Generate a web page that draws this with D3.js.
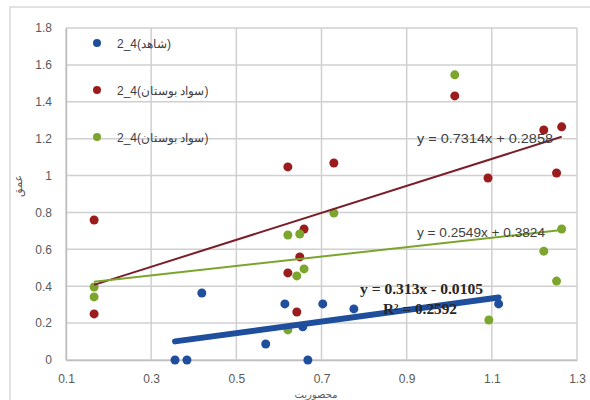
<!DOCTYPE html>
<html><head><meta charset="utf-8">
<script src="https://cdn.jsdelivr.net/npm/d3@7"></script>
<style>body{margin:0;background:#fff}svg{display:block}</style>
</head><body>
<svg id="c" width="590" height="400"></svg>
<script>
const seriesNames = ["2_4(\u200Eشاهد\u200E)", "2_4(\u200Eسواد بوستان\u200E)", "2_4(\u200Eسواد بوستان\u200E)"];
const seriesColors = ["#1f4e9c", "#9b1c1c", "#7ba52c"];
const blueX = [0.356,0.384,0.419,0.569,0.614,0.656,0.668,0.703,0.776,1.116];
const blueY = [0,0,0.363,0.087,0.304,0.18,0,0.304,0.277,0.304];
const redX = [0.166,0.166,0.621,0.621,0.642,0.649,0.659,0.729,1.013,1.091,1.222,1.252,1.264];
const redY = [0.759,0.25,1.047,0.472,0.26,0.559,0.71,1.068,1.432,0.987,1.247,1.014,1.264];
const greenX = [0.166,0.166,0.621,0.621,0.642,0.649,0.659,0.729,1.013,1.093,1.222,1.252,1.264];
const greenY = [0.396,0.342,0.678,0.163,0.456,0.683,0.494,0.797,1.546,0.217,0.59,0.428,0.71];
const slopes = [0.313, 0.7314, 0.2549];
const intercepts = [-0.0105, 0.2858, 0.3824];
const eqLabels = ["y = 0.313x - 0.0105", "y = 0.7314x + 0.2858", "y = 0.2549x + 0.3824"];
const r2Label = "R² = 0.2592";
const xTicks = [0.1,0.3,0.5,0.7,0.9,1.1,1.3];
const yTicks = [0,0.2,0.4,0.6,0.8,1,1.2,1.4,1.6,1.8];
const xTitle = "محصوریت";
const yTitle = "عمق";

const svg = d3.select("#c");
const x = d3.scaleLinear().domain([0.1,1.3]).range([66,577]);
const y = d3.scaleLinear().domain([0,1.8]).range([360,28]);

svg.append("rect").attr("x",10).attr("y",7).attr("width",590).attr("height",400)
  .attr("fill","#fff").attr("stroke","#d9d9d9").attr("stroke-width",1.5);

// gridlines
const g = svg.append("g");
g.selectAll(".gy").data(yTicks).join("line")
  .attr("x1",x(0.1)).attr("x2",x(1.3)).attr("y1",d=>y(d)).attr("y2",d=>y(d))
  .attr("stroke","#d0d0d0").attr("stroke-width",1.5);
g.selectAll(".gx").data(xTicks).join("line")
  .attr("y1",y(0)).attr("y2",y(1.8)).attr("x1",d=>x(d)).attr("x2",d=>x(d))
  .attr("stroke","#d0d0d0").attr("stroke-width",1.5);

// axes
const xAxis = svg.append("g").attr("transform",`translate(0,${y(0)})`)
  .call(d3.axisBottom(x).tickValues(xTicks).tickSize(0).tickPadding(14).tickFormat(d3.format("")));
const yAxis = svg.append("g").attr("transform",`translate(${x(0.1)},0)`)
  .call(d3.axisLeft(y).tickValues(yTicks).tickSize(0).tickPadding(14).tickFormat(d3.format("")));
[xAxis,yAxis].forEach(a=>{
  a.select(".domain").attr("stroke","#bfbfbf").attr("stroke-width",1.5);
  a.selectAll("text").attr("font-family","Liberation Sans, Arial, sans-serif").attr("font-size",12).attr("fill","#595959");
});

svg.append("text").attr("x",316).attr("y",398).attr("text-anchor","middle")
  .attr("font-family","Noto Sans, DejaVu Sans, sans-serif").attr("font-size",10).attr("fill","#595959").text(xTitle);
svg.append("text").attr("transform","translate(22,186) rotate(-90)").attr("text-anchor","middle")
  .attr("font-family","Noto Sans, DejaVu Sans, sans-serif").attr("font-size",11).attr("fill","#595959").text(yTitle);

// points
const series = [
  {xs: blueX, ys: blueY},
  {xs: redX, ys: redY},
  {xs: greenX, ys: greenY}
];
const drawOrder = [1,2,0];
drawOrder.forEach(i=>{
  const s = series[i];
  svg.append("g").selectAll("circle").data(s.xs.map((v,j)=>[v,s.ys[j]])).join("circle")
    .attr("cx",d=>x(d[0])).attr("cy",d=>y(d[1])).attr("r",4.5).attr("fill",seriesColors[i]);
});

// trendlines
const lineColors = ["#1f4e9c","#7a1f2a","#7ba52c"];
const lineWidths = [6, 2, 2];
[1,2,0].forEach(i=>{
  const s = series[i];
  const x0 = d3.min(s.xs), x1 = d3.max(s.xs);
  svg.append("line").attr("x1",x(x0)).attr("y1",y(slopes[i]*x0+intercepts[i]))
    .attr("x2",x(x1)).attr("y2",y(slopes[i]*x1+intercepts[i]))
    .attr("stroke",lineColors[i]).attr("stroke-width",lineWidths[i])
    .attr("stroke-linecap", i===0 ? "round" : "butt");
});

// labels for red/green
svg.append("text").attr("x",417).attr("y",143).attr("textLength",136).attr("lengthAdjust","spacingAndGlyphs")
  .attr("font-family","Liberation Sans, Arial, sans-serif").attr("font-size",12).attr("fill","#404040").text(eqLabels[1]);
svg.append("text").attr("x",417).attr("y",237).attr("textLength",128).attr("lengthAdjust","spacingAndGlyphs")
  .attr("font-family","Liberation Sans, Arial, sans-serif").attr("font-size",12).attr("fill","#404040").text(eqLabels[2]);

// blue labels
svg.append("text").attr("x",360).attr("y",294).attr("textLength",123).attr("lengthAdjust","spacingAndGlyphs")
  .attr("font-family","Liberation Serif, Times New Roman, serif").attr("font-weight","bold").attr("font-size",15).attr("fill","#262626").text(eqLabels[0]);
svg.append("text").attr("x",383).attr("y",314).attr("textLength",74).attr("lengthAdjust","spacingAndGlyphs")
  .attr("font-family","Liberation Serif, Times New Roman, serif").attr("font-weight","bold").attr("font-size",14).attr("fill","#262626").text(r2Label);

// legend
const leg = svg.append("g");
const legY = [43, 90, 137];
seriesNames.forEach((n,i)=>{
  leg.append("circle").attr("cx",97).attr("cy",legY[i]).attr("r",4).attr("fill",seriesColors[i]);
  leg.append("text").attr("x",117).attr("y",legY[i]+4.5)
    .attr("font-family","Liberation Sans, Arial, sans-serif").attr("font-size",12).attr("fill","#404040")
    .attr("direction","ltr").text(n);
});
</script>
</body></html>
